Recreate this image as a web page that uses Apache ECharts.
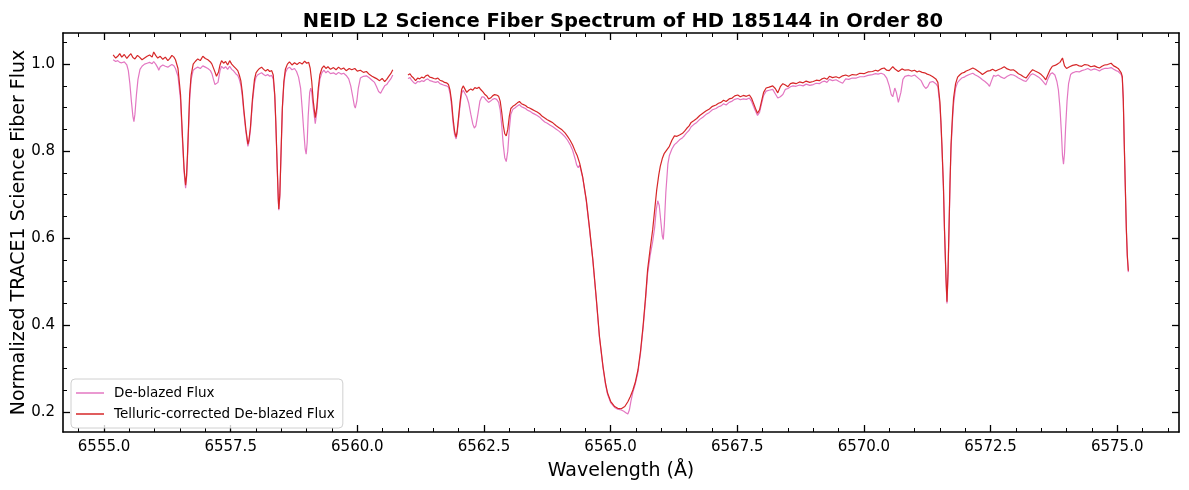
<!DOCTYPE html>
<html>
<head>
<meta charset="utf-8">
<script src="https://cdn.jsdelivr.net/npm/echarts@6/dist/echarts.min.js"></script>
<style>
html,body{margin:0;padding:0;background:#fff;}
#chart{width:1189px;height:490px;}
</style>
</head>
<body>
<div id="chart"></div>
<script>
// ---- Tick labels ----
const xMajorTicks = [6555.0, 6557.5, 6560.0, 6562.5, 6565.0, 6567.5, 6570.0, 6572.5, 6575.0];
const yMajorTicks = [0.2, 0.4, 0.6, 0.8, 1.0];

// ---- Telluric-corrected De-blazed Flux (red) ----
const redWave = [
6555.18,6555.23,6555.27,6555.31,6555.35,6555.40,6555.45,6555.49,6555.53,6555.57,6555.61,6555.66,6555.70,6555.75,6555.80,6555.85,6555.90,6555.95,6555.98,6556.02,
6556.06,6556.11,6556.16,6556.21,6556.26,6556.30,6556.34,6556.38,6556.41,6556.46,6556.51,6556.55,6556.58,6556.61,6556.63,6556.65,6556.69,6556.72,6556.76,6556.80,
6556.85,6556.90,6556.95,6557.00,6557.05,6557.10,6557.13,6557.18,6557.22,6557.26,6557.29,6557.32,6557.36,6557.40,6557.44,6557.48,6557.52,6557.56,6557.60,6557.64,
6557.67,6557.70,6557.73,6557.76,6557.80,6557.84,6557.86,6557.89,6557.93,6557.97,6558.00,6558.03,6558.07,6558.11,6558.15,6558.19,6558.23,6558.27,6558.31,6558.34,
6558.37,6558.39,6558.42,6558.44,6558.45,6558.47,6558.49,6558.52,6558.55,6558.58,6558.62,6558.66,6558.71,6558.76,6558.81,6558.86,6558.91,6558.96,6559.00,6559.04,
6559.07,6559.10,6559.13,6559.17,6559.20,6559.23,6559.26,6559.30,6559.34,6559.38,6559.42,6559.47,6559.53,6559.58,6559.63,6559.68,6559.73,6559.78,6559.84,6559.89,
6559.95,6560.00,6560.06,6560.12,6560.18,6560.24,6560.29,6560.34,6560.39,6560.44,6560.49,6560.54,6560.58,6560.62,6560.66,6560.70,6560.85,
6561.00,6561.04,6561.07,6561.11,6561.15,6561.19,6561.23,6561.27,6561.31,6561.35,6561.39,6561.43,6561.47,6561.51,6561.55,6561.59,6561.63,6561.68,6561.72,6561.76,
6561.80,6561.83,6561.86,6561.89,6561.92,6561.95,6561.97,6562.00,6562.03,6562.06,6562.09,6562.12,6562.16,6562.20,6562.24,6562.28,6562.32,6562.36,6562.40,6562.44,
6562.48,6562.52,6562.56,6562.59,6562.63,6562.67,6562.71,6562.75,6562.79,6562.82,6562.85,6562.88,6562.91,6562.94,6562.97,6563.00,6563.03,6563.07,6563.11,6563.16,
6563.20,6563.24,6563.28,6563.32,6563.36,6563.40,6563.45,6563.50,6563.55,6563.60,6563.65,6563.70,6563.75,6563.80,6563.86,6563.92,6563.98,6564.04,6564.10,6564.15,
6564.20,6564.25,6564.30,6564.34,6564.39,6564.45,6564.52,6564.58,6564.65,6564.72,6564.78,6564.85,6564.90,6564.94,6565.00,6565.08,6565.14,6565.21,6565.28,6565.34,
6565.39,6565.44,6565.49,6565.54,6565.59,6565.64,6565.69,6565.73,6565.78,6565.83,6565.87,6565.91,6565.95,6565.98,6566.02,6566.06,6566.11,6566.16,6566.21,6566.26,
6566.31,6566.36,6566.42,6566.46,6566.50,6566.55,6566.59,6566.64,6566.70,6566.76,6566.82,6566.88,6566.95,6567.01,6567.08,6567.13,6567.18,6567.23,6567.28,6567.34,
6567.40,6567.45,6567.51,6567.56,6567.62,6567.68,6567.74,6567.78,6567.82,6567.86,6567.90,6567.94,6567.98,6568.02,6568.07,6568.13,6568.20,6568.25,6568.30,6568.35,
6568.40,6568.45,6568.50,6568.55,6568.60,6568.66,6568.73,6568.80,6568.86,6568.93,6569.00,6569.06,6569.12,6569.17,6569.22,6569.27,6569.32,6569.38,6569.45,6569.51,
6569.58,6569.64,6569.70,6569.77,6569.85,6569.92,6570.00,6570.08,6570.17,6570.23,6570.28,6570.34,6570.40,6570.45,6570.50,6570.57,6570.62,6570.68,6570.75,6570.81,
6570.88,6570.94,6571.00,6571.05,6571.09,6571.15,6571.20,6571.25,6571.30,6571.36,6571.42,6571.46,6571.50,6571.52,6571.54,6571.57,6571.59,6571.62,6571.64,6571.66,
6571.68,6571.70,6571.72,6571.75,6571.77,6571.81,6571.85,6571.89,6571.93,6571.98,6572.02,6572.08,6572.15,6572.20,6572.25,6572.30,6572.34,6572.39,6572.44,6572.49,
6572.54,6572.60,6572.65,6572.71,6572.77,6572.83,6572.90,6572.95,6573.00,6573.05,6573.10,6573.15,6573.20,6573.25,6573.29,6573.33,6573.38,6573.45,6573.50,6573.55,
6573.59,6573.63,6573.68,6573.72,6573.77,6573.82,6573.87,6573.92,6573.96,6574.00,6574.06,6574.12,6574.19,6574.25,6574.30,6574.36,6574.42,6574.48,6574.55,6574.60,
6574.65,6574.70,6574.75,6574.81,6574.88,6574.93,6574.98,6575.02,6575.05,6575.08,6575.10,6575.12,6575.14,6575.16,6575.18,6575.20,6575.22
];
const redFlux = [
1.021,1.014,1.018,1.024,1.016,1.022,1.013,1.019,1.024,1.015,1.012,1.020,1.016,1.010,1.014,1.018,1.021,1.016,1.028,1.020,
1.014,1.018,1.011,1.016,1.008,1.013,1.020,1.016,1.010,0.990,0.930,0.830,0.760,0.722,0.745,0.800,0.930,0.975,1.000,1.006,
1.012,1.008,1.018,1.013,1.010,1.005,1.000,0.985,0.972,0.982,0.998,1.008,1.002,1.006,0.998,1.008,1.000,0.995,0.990,0.985,
0.975,0.962,0.935,0.895,0.850,0.816,0.825,0.855,0.920,0.965,0.980,0.985,0.990,0.993,0.988,0.984,0.988,0.983,0.985,0.975,
0.930,0.870,0.760,0.690,0.667,0.700,0.780,0.900,0.960,0.988,1.000,1.005,0.998,1.003,0.999,1.004,1.000,1.007,1.002,1.004,
0.990,0.960,0.915,0.877,0.900,0.945,0.975,0.990,0.996,0.990,0.994,0.988,0.992,0.987,0.993,0.988,0.991,0.985,0.990,0.987,
0.990,0.984,0.986,0.981,0.983,0.976,0.972,0.969,0.966,0.962,0.967,0.960,0.965,0.972,0.978,0.987,null,
0.975,0.978,0.972,0.968,0.962,0.968,0.966,0.970,0.968,0.973,0.975,0.970,0.969,0.967,0.966,0.968,0.963,0.961,0.958,0.957,
0.953,0.940,0.915,0.875,0.845,0.832,0.845,0.880,0.915,0.942,0.950,0.946,0.935,0.940,0.943,0.940,0.946,0.944,0.947,0.941,
0.936,0.930,0.926,0.920,0.922,0.927,0.930,0.929,0.926,0.915,0.890,0.860,0.840,0.835,0.850,0.880,0.898,0.903,0.906,0.911,
0.914,0.909,0.907,0.905,0.901,0.899,0.896,0.893,0.890,0.886,0.880,0.876,0.872,0.869,0.865,0.859,0.854,0.849,0.842,0.834,
0.825,0.814,0.800,0.790,0.772,0.740,0.688,0.627,0.550,0.458,0.374,0.305,0.266,0.244,0.225,0.213,0.209,0.208,0.213,0.224,
0.236,0.251,0.270,0.297,0.340,0.397,0.465,0.527,0.575,0.619,0.665,0.711,0.745,0.765,0.783,0.795,0.803,0.811,0.825,0.835,
0.834,0.837,0.841,0.846,0.852,0.858,0.866,0.870,0.875,0.882,0.887,0.892,0.897,0.903,0.906,0.910,0.912,0.917,0.914,0.920,
0.922,0.927,0.929,0.925,0.928,0.926,0.929,0.922,0.910,0.898,0.887,0.895,0.915,0.935,0.945,0.947,0.950,0.944,0.934,0.948,
0.955,0.952,0.948,0.955,0.957,0.955,0.959,0.957,0.961,0.958,0.960,0.963,0.962,0.966,0.968,0.965,0.972,0.969,0.971,0.968,
0.973,0.975,0.972,0.976,0.975,0.979,0.978,0.982,0.983,0.986,0.984,0.989,0.991,0.986,0.985,0.994,0.988,0.983,0.989,0.986,
0.987,0.984,0.986,0.982,0.984,0.981,0.980,0.977,0.975,0.971,0.966,0.958,0.914,0.870,0.815,0.720,0.624,0.510,0.454,0.520,
0.624,0.730,0.815,0.885,0.922,0.955,0.970,0.975,0.979,0.981,0.984,0.987,0.991,0.988,0.984,0.980,0.976,0.980,0.984,0.985,
0.988,0.984,0.987,0.990,0.994,0.989,0.986,0.987,0.983,0.978,0.975,0.971,0.968,0.976,0.982,0.987,0.984,0.980,0.976,0.970,
0.964,0.975,0.988,0.995,0.997,1.000,1.004,1.014,0.996,0.990,0.994,0.997,0.999,0.996,0.995,0.999,0.998,0.994,0.996,0.993,
0.991,0.995,0.998,0.999,1.002,0.996,0.993,0.990,0.987,0.980,0.972,0.920,0.815,0.720,0.624,0.560,0.525
];

// ---- De-blazed Flux (pink) ----
const pinkWave = [
6555.18,6555.23,6555.27,6555.31,6555.35,6555.40,6555.45,6555.48,6555.51,6555.54,6555.57,6555.59,6555.61,6555.64,6555.67,6555.71,6555.75,6555.80,6555.85,6555.90,
6555.95,6555.98,6556.02,6556.06,6556.08,6556.11,6556.16,6556.21,6556.26,6556.30,6556.34,6556.38,6556.41,6556.46,6556.51,6556.55,6556.58,6556.61,6556.63,6556.65,
6556.69,6556.72,6556.76,6556.80,6556.85,6556.90,6556.95,6557.00,6557.05,6557.10,6557.13,6557.16,6557.19,6557.22,6557.25,6557.29,6557.32,6557.36,6557.40,6557.44,
6557.48,6557.52,6557.56,6557.60,6557.64,6557.67,6557.70,6557.73,6557.76,6557.80,6557.84,6557.86,6557.89,6557.93,6557.97,6558.00,6558.03,6558.07,6558.11,6558.15,
6558.19,6558.23,6558.27,6558.31,6558.34,6558.37,6558.39,6558.42,6558.44,6558.45,6558.47,6558.49,6558.52,6558.55,6558.58,6558.62,6558.66,6558.71,6558.76,6558.80,
6558.84,6558.88,6558.91,6558.94,6558.97,6558.99,6559.01,6559.03,6559.06,6559.08,6559.10,6559.13,6559.17,6559.20,6559.23,6559.26,6559.30,6559.34,6559.38,6559.42,
6559.47,6559.53,6559.58,6559.63,6559.68,6559.73,6559.78,6559.83,6559.87,6559.91,6559.94,6559.96,6559.99,6560.02,6560.06,6560.12,6560.18,6560.24,6560.29,6560.34,
6560.38,6560.42,6560.46,6560.50,6560.54,6560.58,6560.62,6560.66,6560.70,6560.85,
6561.00,6561.04,6561.07,6561.11,6561.15,6561.19,6561.23,6561.27,6561.31,6561.35,6561.39,6561.43,6561.47,6561.51,6561.55,6561.59,6561.63,6561.68,6561.72,6561.76,
6561.80,6561.83,6561.86,6561.89,6561.92,6561.95,6561.97,6562.00,6562.03,6562.06,6562.09,6562.12,6562.16,6562.20,6562.24,6562.28,6562.31,6562.34,6562.38,6562.42,
6562.46,6562.50,6562.54,6562.59,6562.63,6562.67,6562.71,6562.75,6562.79,6562.82,6562.85,6562.88,6562.91,6562.94,6562.97,6563.00,6563.03,6563.07,6563.11,6563.16,
6563.20,6563.24,6563.28,6563.32,6563.36,6563.40,6563.45,6563.50,6563.55,6563.60,6563.65,6563.70,6563.75,6563.80,6563.86,6563.92,6563.98,6564.04,6564.10,6564.15,
6564.20,6564.25,6564.30,6564.33,6564.36,6564.39,6564.42,6564.45,6564.52,6564.58,6564.65,6564.72,6564.78,6564.85,6564.90,6564.94,6565.00,6565.08,6565.14,6565.21,
6565.26,6565.30,6565.34,6565.37,6565.40,6565.44,6565.49,6565.54,6565.59,6565.64,6565.69,6565.73,6565.78,6565.83,6565.87,6565.90,6565.93,6565.96,6565.99,6566.02,
6566.04,6566.06,6566.09,6566.13,6566.16,6566.21,6566.26,6566.31,6566.36,6566.42,6566.46,6566.50,6566.55,6566.59,6566.64,6566.70,6566.76,6566.82,6566.88,6566.95,
6567.01,6567.08,6567.13,6567.18,6567.23,6567.28,6567.34,6567.40,6567.45,6567.51,6567.56,6567.62,6567.68,6567.74,6567.78,6567.82,6567.86,6567.90,6567.94,6567.98,
6568.02,6568.07,6568.13,6568.20,6568.25,6568.30,6568.35,6568.40,6568.45,6568.50,6568.55,6568.60,6568.66,6568.73,6568.80,6568.86,6568.93,6569.00,6569.06,6569.12,
6569.17,6569.22,6569.27,6569.32,6569.38,6569.45,6569.51,6569.58,6569.64,6569.70,6569.77,6569.85,6569.92,6570.00,6570.08,6570.17,6570.23,6570.28,6570.34,6570.40,
6570.45,6570.50,6570.54,6570.57,6570.61,6570.64,6570.68,6570.70,6570.73,6570.77,6570.81,6570.88,6570.94,6571.00,6571.05,6571.09,6571.13,6571.18,6571.22,6571.26,
6571.30,6571.36,6571.42,6571.46,6571.50,6571.52,6571.54,6571.57,6571.59,6571.62,6571.64,6571.66,6571.68,6571.70,6571.72,6571.75,6571.77,6571.81,6571.85,6571.89,
6571.93,6571.98,6572.02,6572.08,6572.15,6572.20,6572.25,6572.30,6572.34,6572.39,6572.44,6572.48,6572.52,6572.56,6572.60,6572.65,6572.71,6572.77,6572.83,6572.90,
6572.95,6573.00,6573.05,6573.10,6573.15,6573.20,6573.25,6573.29,6573.33,6573.38,6573.45,6573.50,6573.55,6573.59,6573.63,6573.68,6573.72,6573.77,6573.81,6573.84,
6573.87,6573.90,6573.92,6573.94,6573.96,6573.98,6574.01,6574.04,6574.08,6574.12,6574.19,6574.25,6574.30,6574.36,6574.42,6574.48,6574.55,6574.60,6574.65,6574.70,
6574.75,6574.81,6574.88,6574.93,6574.98,6575.02,6575.05,6575.08,6575.10,6575.12,6575.14,6575.16,6575.18,6575.20,6575.22
];
const pinkFlux = [
1.010,1.006,1.008,1.004,1.003,1.005,0.998,0.985,0.955,0.915,0.880,0.868,0.885,0.930,0.965,0.988,0.995,1.000,1.002,1.004,
1.001,1.006,1.000,0.992,0.986,0.994,0.998,0.995,0.993,0.996,0.999,0.996,0.990,0.972,0.918,0.820,0.752,0.715,0.740,0.792,
0.918,0.965,0.986,0.990,0.993,0.990,0.996,0.993,0.990,0.985,0.978,0.965,0.953,0.949,0.958,0.985,0.995,0.990,0.994,0.988,
0.995,0.988,0.984,0.978,0.974,0.965,0.952,0.925,0.888,0.845,0.811,0.820,0.848,0.912,0.955,0.970,0.975,0.978,0.980,0.976,
0.973,0.976,0.972,0.974,0.966,0.925,0.865,0.755,0.685,0.664,0.695,0.775,0.895,0.955,0.980,0.990,0.993,0.987,0.990,0.983,
0.970,0.945,0.900,0.850,0.805,0.793,0.820,0.880,0.935,0.945,0.935,0.900,0.863,0.890,0.935,0.965,0.980,0.986,0.980,0.984,
0.978,0.980,0.976,0.981,0.977,0.979,0.974,0.966,0.950,0.925,0.905,0.899,0.915,0.945,0.968,0.972,0.973,0.968,0.963,0.958,
0.948,0.937,0.933,0.942,0.950,0.953,0.960,0.966,0.975,null,
0.967,0.969,0.963,0.958,0.955,0.960,0.959,0.962,0.960,0.964,0.966,0.962,0.961,0.959,0.958,0.960,0.955,0.953,0.951,0.950,
0.947,0.933,0.905,0.865,0.838,0.828,0.840,0.873,0.908,0.933,0.940,0.936,0.925,0.910,0.885,0.862,0.853,0.858,0.885,0.915,
0.925,0.924,0.918,0.912,0.915,0.919,0.921,0.919,0.912,0.895,0.860,0.815,0.785,0.776,0.800,0.850,0.885,0.896,0.899,0.904,
0.907,0.902,0.900,0.898,0.894,0.892,0.888,0.885,0.882,0.878,0.872,0.867,0.864,0.860,0.856,0.851,0.846,0.840,0.833,0.825,
0.815,0.802,0.782,0.768,0.762,0.768,0.765,0.738,0.685,0.624,0.547,0.455,0.371,0.302,0.263,0.241,0.222,0.211,0.207,0.205,
0.202,0.199,0.196,0.205,0.225,0.246,0.266,0.292,0.335,0.392,0.458,0.518,0.560,0.592,0.625,0.665,0.686,0.675,0.640,0.605,
0.597,0.630,0.705,0.770,0.790,0.805,0.815,0.820,0.826,0.831,0.836,0.842,0.848,0.856,0.861,0.866,0.873,0.878,0.884,0.889,
0.895,0.898,0.902,0.904,0.909,0.906,0.912,0.915,0.919,0.921,0.918,0.920,0.919,0.922,0.915,0.903,0.892,0.882,0.889,0.909,
0.928,0.938,0.940,0.942,0.932,0.922,0.925,0.930,0.942,0.944,0.948,0.950,0.949,0.952,0.950,0.954,0.951,0.953,0.956,0.955,
0.959,0.961,0.958,0.965,0.962,0.964,0.960,0.956,0.966,0.965,0.968,0.968,0.971,0.971,0.974,0.976,0.978,0.977,0.979,0.976,
0.968,0.950,0.930,0.925,0.945,0.935,0.912,0.910,0.935,0.965,0.972,0.974,0.972,0.975,0.970,0.966,0.962,0.950,0.944,0.948,
0.958,0.960,0.955,0.948,0.905,0.862,0.808,0.713,0.618,0.505,0.450,0.515,0.618,0.722,0.805,0.873,0.908,0.945,0.958,0.963,
0.968,0.970,0.973,0.976,0.979,0.975,0.972,0.968,0.964,0.960,0.955,0.949,0.962,0.974,0.972,0.975,0.970,0.967,0.972,0.976,
0.975,0.972,0.968,0.965,0.962,0.960,0.968,0.975,0.978,0.975,0.970,0.965,0.958,0.952,0.965,0.977,0.980,0.975,0.960,0.940,
0.900,0.840,0.790,0.770,0.795,0.850,0.915,0.955,0.976,0.980,0.983,0.982,0.985,0.987,0.990,0.986,0.989,0.987,0.984,0.988,
0.990,0.990,0.992,0.988,0.985,0.983,0.981,0.976,0.968,0.915,0.810,0.715,0.620,0.555,0.522
];

const seriesNames = ['De-blazed Flux', 'Telluric-corrected De-blazed Flux'];
const seriesColors = ['#e377c2', '#d62728'];

const XMIN = 6554.19, XMAX = 6576.22;
const YMIN = 0.1545, YMAX = 1.0715;

function zip(xs, ys) { return xs.map((x, i) => [x, ys[i]]); }

const xMinorTicks = [];
for (let v = 6554.5; v <= 6576.0 + 1e-9; v += 0.5) {
  const r = Math.round(v * 10) / 10;
  if (!xMajorTicks.some(t => Math.abs(t - r) < 1e-6)) xMinorTicks.push(r);
}
const yMinorTicks = [];
for (let v = 0.25; v <= 1.05 + 1e-9; v += 0.05) {
  const r = Math.round(v * 100) / 100;
  if (!yMajorTicks.some(t => Math.abs(t - r) < 1e-6)) yMinorTicks.push(r);
}

const FONT = 'DejaVu Sans';
const axisLineStyle = { color: '#000', width: 1.6 };

function xAx(pos, major, showLine, showLabel) {
  const o = {
    type: 'value', min: XMIN, max: XMAX, position: pos, gridIndex: 0,
    splitLine: { show: false },
    axisLine: { show: showLine, onZero: false, lineStyle: axisLineStyle },
    axisTick: { show: true, inside: true, length: major ? 7 : 4,
      customValues: major ? xMajorTicks : xMinorTicks,
      lineStyle: { color: '#000', width: major ? 1.3 : 1 } },
    axisLabel: { show: showLabel, customValues: xMajorTicks, fontFamily: FONT, fontSize: 15, color: '#000', margin: 8,
      formatter: v => v.toFixed(1) }
  };
  if (showLabel) {
    o.name = 'Wavelength (Å)';
    o.nameLocation = 'middle';
    o.nameGap = 30;
    o.nameMoveOverlap = false;
    o.nameTextStyle = { fontFamily: FONT, fontSize: 19, color: '#000' };
  }
  return o;
}
function yAx(pos, major, showLine, showLabel) {
  const o = {
    type: 'value', min: YMIN, max: YMAX, position: pos, gridIndex: 0,
    splitLine: { show: false },
    axisLine: { show: showLine, onZero: false, lineStyle: axisLineStyle },
    axisTick: { show: true, inside: true, length: major ? 7 : 4,
      customValues: major ? yMajorTicks : yMinorTicks,
      lineStyle: { color: '#000', width: major ? 1.3 : 1 } },
    axisLabel: { show: showLabel, customValues: yMajorTicks, fontFamily: FONT, fontSize: 15, color: '#000', margin: 8,
      formatter: v => v.toFixed(1) }
  };
  if (showLabel) {
    o.name = 'Normalized TRACE1 Science Fiber Flux';
    o.nameLocation = 'middle';
    o.nameGap = 34;
    o.nameMoveOverlap = false;
    o.nameTextStyle = { fontFamily: FONT, fontSize: 19, color: '#000' };
  }
  return o;
}

const chart = echarts.init(document.getElementById('chart'), null, { renderer: 'canvas' });
chart.setOption({
  animation: false,
  backgroundColor: '#fff',
  title: {
    text: 'NEID L2 Science Fiber Spectrum of HD 185144 in Order 80',
    left: 618, top: 7, textAlign: 'center',
    textStyle: { fontFamily: FONT, fontSize: 19.5, fontWeight: 'bold', color: '#000' }
  },
  grid: { left: 63, right: 10, top: 33, bottom: 58, containLabel: false, outerBoundsMode: 'none' },
  legend: {
    data: seriesNames,
    orient: 'vertical', left: 71, top: 379,
    padding: [6, 8, 6, 5], itemGap: 5, itemWidth: 28, itemHeight: 1.5, icon: 'rect',
    backgroundColor: 'rgba(255,255,255,0.8)', borderColor: '#d0d0d0', borderWidth: 1, borderRadius: 4,
    textStyle: { fontFamily: FONT, fontSize: 13.5, color: '#000', padding: [0, 0, 0, 5], lineHeight: 16 }
  },
  xAxis: [xAx('bottom', true, true, true), xAx('bottom', false, false, false), xAx('top', true, true, false), xAx('top', false, false, false)],
  yAxis: [yAx('left', true, true, true), yAx('left', false, false, false), yAx('right', true, true, false), yAx('right', false, false, false)],
  series: [
    { name: seriesNames[0], type: 'line', xAxisIndex: 0, yAxisIndex: 0, data: zip(pinkWave, pinkFlux),
      symbol: 'none', connectNulls: false, color: seriesColors[0], lineStyle: { width: 1.2, color: seriesColors[0] }, z: 2 },
    { name: seriesNames[1], type: 'line', xAxisIndex: 0, yAxisIndex: 0, data: zip(redWave, redFlux),
      symbol: 'none', connectNulls: false, color: seriesColors[1], lineStyle: { width: 1.2, color: seriesColors[1] }, z: 3 }
  ]
});
</script>
</body>
</html>
